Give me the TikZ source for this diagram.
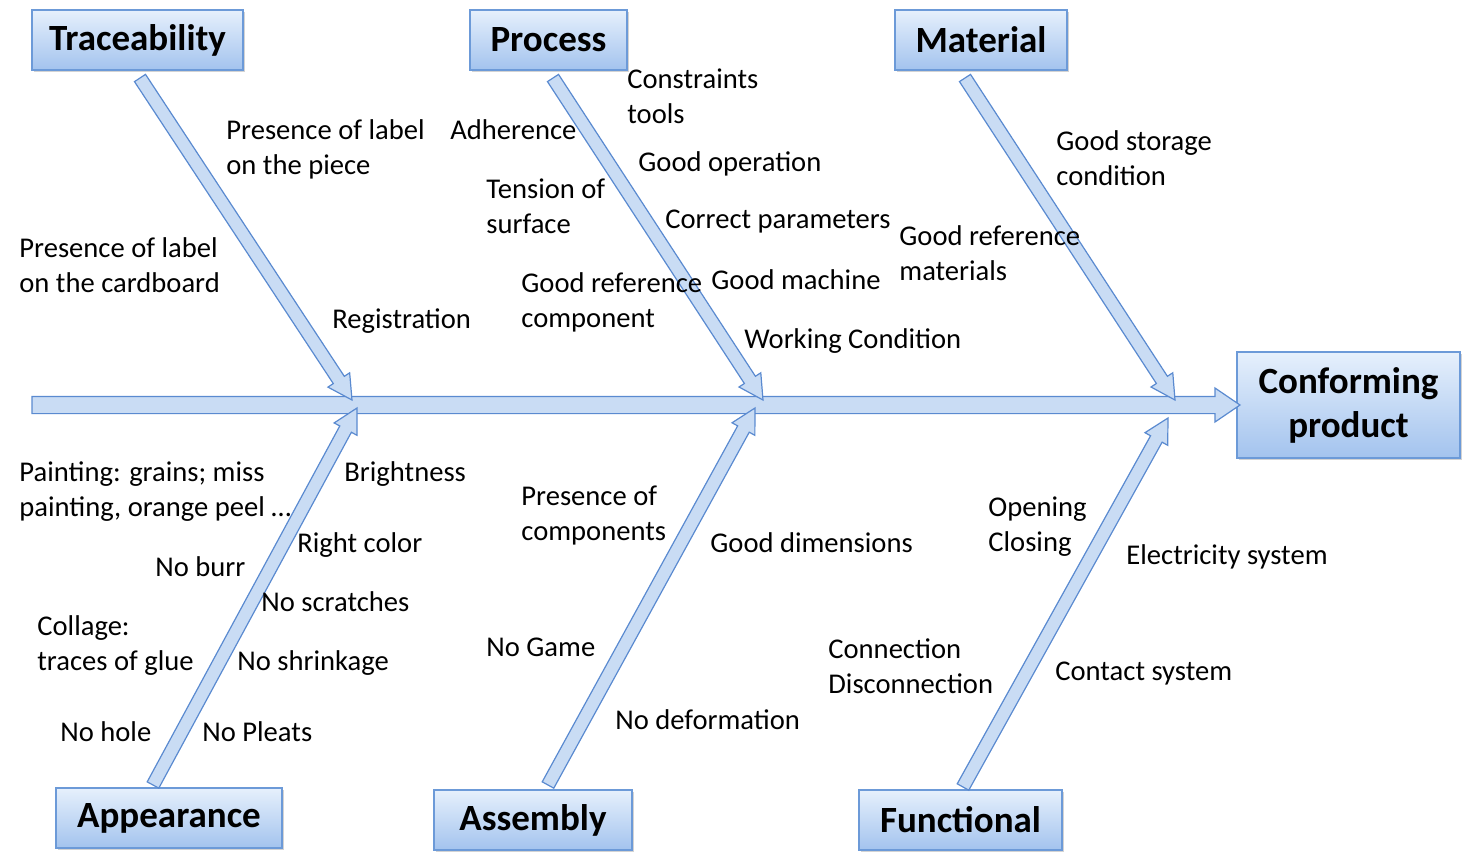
\documentclass[tikz,border=0pt]{standalone}
\usepackage{fontspec}
\setmainfont{Carlito}
\usetikzlibrary{calc,shadows}
\definecolor{bord}{HTML}{6C9AD8}
\definecolor{afill}{HTML}{C9DCF4}
\definecolor{aline}{HTML}{5A8AD0}
\definecolor{topc}{HTML}{E6F0FC}
\definecolor{botc}{HTML}{A3C3EE}
\tikzset{
  box/.style={draw=bord, line width=0.8pt, top color=topc, bottom color=botc,
    font=\fontsize{18.5}{22}\selectfont\bfseries, align=center, inner sep=0pt,
    drop shadow={shadow xshift=1.2pt, shadow yshift=-1.2pt, opacity=0.35}},
  lab/.style={font=\fontsize{14.3}{17.5}\selectfont, align=left, anchor=north west, inner sep=0pt, yshift=-1pt},
  fat/.style={fill=afill, draw=aline, line width=0.6pt, line join=miter}
}
% \fatarr{start}{tip}{shaft half}{head half}{head length}
\newcommand{\fatarr}[5]{%
  \coordinate (fbase) at ($(#2)!#5!(#1)$);
  \path[fat] ($(#1)!#3!90:(#2)$) -- ($(fbase)!#3!-90:(#1)$) -- ($(fbase)!#4!-90:(#1)$)
    -- (#2) -- ($(fbase)!#4!90:(#1)$) -- ($(fbase)!#3!90:(#1)$) -- ($(#1)!#3!-90:(#2)$) -- cycle;}
\begin{document}
\begin{tikzpicture}[x=0.5pt,y=-0.5pt]
\useasboundingbox (0,0) rectangle (1474,862);
% boxes
\node[box, minimum width=105.5pt, minimum height=30pt] (trace) at (137.5,40) {Traceability};
\node[box, minimum width=78.5pt, minimum height=30pt] (proc) at (548.5,40) {Process};
\node[box, minimum width=86pt, minimum height=30pt] (mat) at (981,40) {Material};
\node[box, minimum width=111.5pt, minimum height=53pt] (conf) at (1348.5,405) {Conforming\\product};
\node[box, minimum width=113pt, minimum height=30pt] (app) at (169,818) {Appearance};
\node[box, minimum width=99pt, minimum height=30pt] (ass) at (533,820) {Assembly};
\node[box, minimum width=101.5pt, minimum height=30pt] (fun) at (960.5,820) {Functional};
% coordinates
\coordinate (s0) at (32,405);
\coordinate (s1) at (1240,405);
\coordinate (t0) at (140,78);  \coordinate (t1) at (352,400);
\coordinate (p0) at (553,78);  \coordinate (p1) at (763,400);
\coordinate (m0) at (965,78);  \coordinate (m1) at (1175,400);
\coordinate (a0) at (153,785); \coordinate (a1) at (357,408);
\coordinate (b0) at (548,785); \coordinate (b1) at (755,408);
\coordinate (f0) at (963,787); \coordinate (f1) at (1168,418);
% arrows
\fatarr{s0}{s1}{4.3pt}{8.5pt}{12.5pt}
\fatarr{t0}{t1}{3.3pt}{6.5pt}{12pt}
\fatarr{p0}{p1}{3.3pt}{6.5pt}{12pt}
\fatarr{m0}{m1}{3.3pt}{6.5pt}{12pt}
\fatarr{a0}{a1}{3.3pt}{6.5pt}{12pt}
\fatarr{b0}{b1}{3.3pt}{6.5pt}{12pt}
\fatarr{f0}{f1}{3.3pt}{6.5pt}{12pt}
% labels
\node[lab] (l1) at (226,117) {Presence of label\\on the piece};
\node[lab] (l2) at (450,117) {Adherence};
\node[lab] (l3) at (627,66) {Constraints\\tools};
\node[lab] (l4) at (638,149) {Good operation};
\node[lab] (l5) at (486,176) {Tension of\\surface};
\node[lab] (l6) at (665,208) {Correct parameters};
\node[lab] (l7) at (19,235) {Presence of label\\on the cardboard};
\node[lab] (l8) at (521,270) {Good reference\\component};
\node[lab] (l9) at (711,267) {Good machine};
\node[lab] (l10) at (332,306) {Registration};
\node[lab] (l11) at (744,326) {Working Condition};
\node[lab] (l12) at (1056,128) {Good storage\\condition};
\node[lab] (l13) at (899,223) {Good reference\\materials};
\node[lab] (l14) at (19,459) {Painting: grains; miss\\painting, orange peel …};
\node[lab] (l15) at (344,459) {Brightness};
\node[lab] (l16) at (521,483) {Presence of\\components};
\node[lab] (l17) at (297,530) {Right color};
\node[lab] (l18) at (710,530) {Good dimensions};
\node[lab] (l19) at (988,494) {Opening\\Closing};
\node[lab] (l20) at (1126,542) {Electricity system};
\node[lab] (l21) at (155,554) {No burr};
\node[lab] (l22) at (261,589) {No scratches};
\node[lab] (l23) at (37,613) {Collage:\\traces of glue};
\node[lab] (l24) at (237,648) {No shrinkage};
\node[lab] (l25) at (486,636) {No Game};
\node[lab] (l26) at (828,636) {Connection\\Disconnection};
\node[lab] (l27) at (1055,660) {Contact system};
\node[lab] (l28) at (615,707) {No deformation};
\node[lab] (l29) at (60,719) {No hole};
\node[lab] (l30) at (202,719) {No Pleats};
\end{tikzpicture}
\end{document}
